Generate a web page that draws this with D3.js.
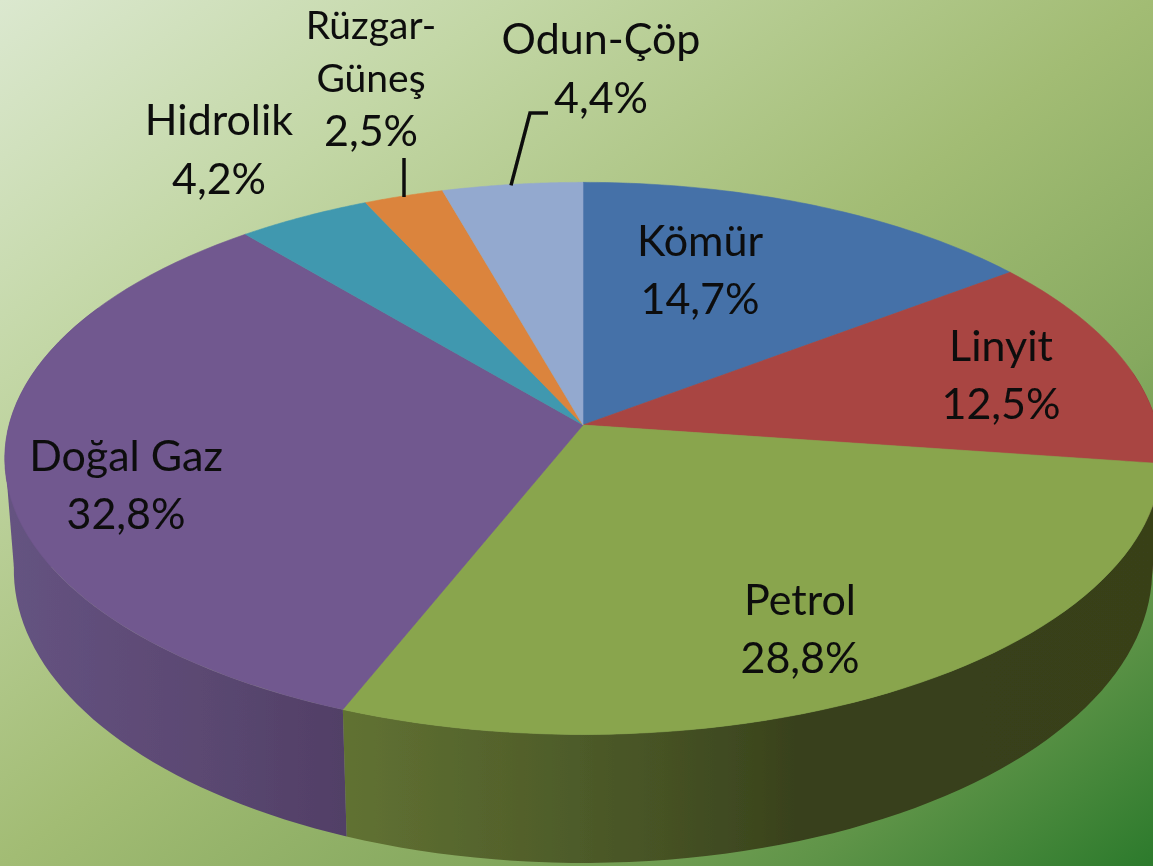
<!DOCTYPE html>
<html><head><meta charset="utf-8">
<script src="https://cdnjs.cloudflare.com/ajax/libs/d3/7.8.5/d3.min.js"></script>
<style>html,body{margin:0;padding:0;overflow:hidden}svg{display:block}text{font-family:Lato,"Open Sans",sans-serif;fill:#0c0c0c}</style>
</head><body><svg id="c" width="1153" height="866"></svg>
<script>
const categories=["Kömür","Linyit","Petrol","Doğal Gaz","Hidrolik","Rüzgar-Güneş","Odun-Çöp"];
const shares=[14.7,12.5,28.8,32.8,4.2,2.5,4.4];
const shareLabels=["14,7%","12,5%","28,8%","32,8%","4,2%","2,5%","4,4%"];
const labelLines=[["Kömür"],["Linyit"],["Petrol"],["Doğal Gaz"],["Hidrolik"],["Rüzgar-","Güneş"],["Odun-Çöp"]];
const colors=["#4571a8","#a94543","#89a54e","#71588f","#4198af","#db843d","#93a9cf"];
// layout
const labelX=[700,1001,800,126,219,371,601];
const labelTop=[256,361,615,471,135,38.5,54];
const labelStep=[58,58,58,58,59,53.5,59];
const labelSize=[43,43,43,43,43,39,43];
const W=1153,H=866,cx=583,k=0.121;
const topRing={a:574,b:272,y0:425},botRing={a:565,b:288.7,y0:534.5};
const svg=d3.select("#c"),defs=svg.append("defs");
const bg=defs.append("linearGradient").attr("id","bg").attr("x1",0).attr("y1",0).attr("x2",1).attr("y2",1);
[[0,"#dbe8cf"],[.22,"#c3d7a6"],[.5,"#a2bc74"],[.7,"#86a95f"],[.85,"#5f9448"],[1,"#2c7a2c"]].forEach(s=>bg.append("stop").attr("offset",s[0]).attr("stop-color",s[1]));
const sideGrad=(id,stops)=>{const g=defs.append("linearGradient").attr("id",id).attr("gradientUnits","userSpaceOnUse").attr("x1",0).attr("x2",W).attr("y1",0).attr("y2",0);
 stops.forEach(s=>g.append("stop").attr("offset",s[0]/W).attr("stop-color",s[1]));};
sideGrad("sPurple",[[10,"#655381"],[200,"#5b4872"],[343,"#513f66"]]);
sideGrad("sGreen",[[343,"#617232"],[560,"#4f5d2a"],[735,"#3f4a20"],[808,"#373f1b"],[1153,"#384019"]]);
sideGrad("sRed",[[1000,"#6a2b2a"],[1153,"#6a2b2a"]]);
const blur=defs.append("filter").attr("id","soft").attr("x","-5%").attr("y","-5%").attr("width","110%").attr("height","110%");
blur.append("feGaussianBlur").attr("stdDeviation",0.7);
svg.append("rect").attr("width",W).attr("height",H).attr("fill","url(#bg)");
const pie=d3.pie().sort(null).value(d=>d);
const arcs=pie(shares);
const proj=(p,t)=>{const u=Math.sin(t),v=-Math.cos(t),d=1-k*v;return [cx+p.a*u/d,p.y0+p.b*v/d];};
const samples=(a0,a1)=>d3.range(0,61).map(i=>a0+(a1-a0)*i/60);
const line=d3.line();
const g=svg.append("g").attr("filter","url(#soft)");
const sideFill={1:"url(#sRed)",2:"url(#sGreen)",3:"url(#sPurple)"};
[1,2,3].forEach(i=>{
  const a=arcs[i];
  const a0=Math.max(a.startAngle,Math.PI/2-0.2),a1=Math.min(a.endAngle,Math.PI*1.65);
  const ts=samples(a0,a1);
  const tp=ts.map(t=>proj(topRing,t)),bp=ts.map(t=>proj(botRing,t));
  g.append("path").attr("d",line([...tp,...bp.slice().reverse()])+"Z").attr("fill",sideFill[i]);
  if(i===3){ // tangent joining the two rings at the far left
    const tl=d3.least(tp,p=>p[0]),bl=d3.least(bp,p=>p[0]);
    g.append("path").attr("d",line([tl,bl,[bl[0]+60,bl[1]],[tl[0]+60,tl[1]]])+"Z").attr("fill",sideFill[i]);
  }
});
const apex=[cx,topRing.y0];
arcs.forEach((a,i)=>{
  g.append("path").attr("d",line([apex,...samples(a.startAngle,a.endAngle).map(t=>proj(topRing,t))])+"Z")
   .attr("fill",colors[i]).attr("stroke",colors[i]).attr("stroke-width",0.6);
});
// leader lines
const leader=d3.line();
const t5=(arcs[5].startAngle+arcs[5].endAngle)/2,t6=(arcs[6].startAngle+arcs[6].endAngle)/2;
const p5=proj(topRing,t5);
g.append("path").attr("d",leader([[404,p5[1]+1],[404,158]])).attr("stroke","#0c0c0c").attr("stroke-width",3.5).attr("fill","none");
const p6=proj(topRing,t6);
g.append("path").attr("d",leader([[511,p6[1]+1],[530,113],[548,113]])).attr("stroke","#0c0c0c").attr("stroke-width",3.5).attr("fill","none");
const tg=svg.append("g").attr("filter","url(#soft)");
categories.forEach((c,i)=>{
  const rows=[...labelLines[i],shareLabels[i]];
  rows.forEach((r,j)=>{
    const isShare=j===rows.length-1;
    tg.append("text").attr("x",labelX[i]).attr("y",labelTop[i]+j*labelStep[i]).attr("text-anchor","middle").attr("font-size",isShare?43:labelSize[i]).text(r);
  });
});
</script></body></html>
